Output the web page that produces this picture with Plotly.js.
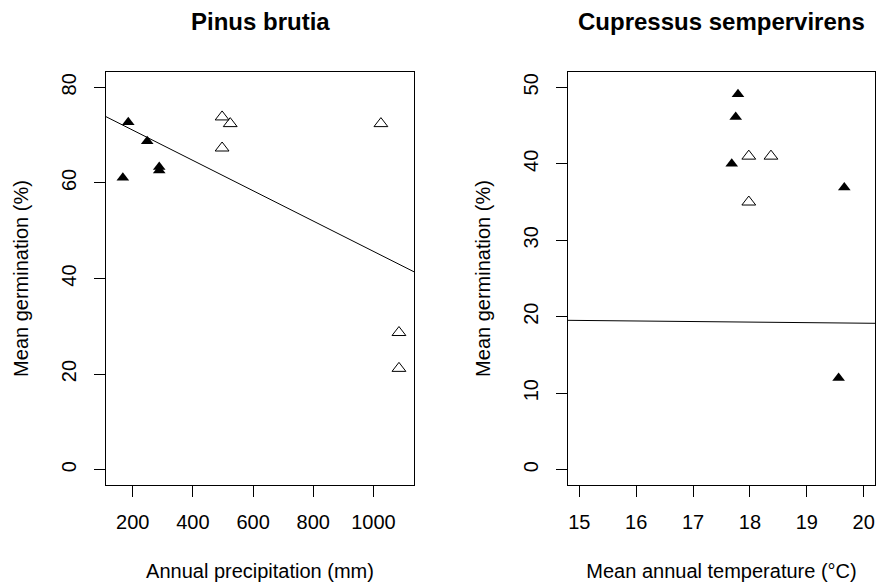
<!DOCTYPE html>
<html>
<head>
<meta charset="utf-8">
<script src="https://cdn.plot.ly/plotly-3.0.1.min.js"></script>
<style>
html,body{margin:0;padding:0;background:#fff;}
#chart{width:877px;height:583px;}
</style>
</head>
<body>
<div id="chart"></div>
<script>
// ---- Pinus brutia (left panel) ----
const pinusFilledPrecip = [185, 248, 167, 288, 288];
const pinusFilledGerm   = [72.7, 68.7, 61.1, 63.3, 62.6];
const pinusOpenPrecip   = [497, 524, 497, 1025, 1085, 1085];
const pinusOpenGerm     = [73.8, 72.4, 67.3, 72.4, 28.7, 21.2];
const pinusFitIntercept = 77.37;
const pinusFitSlope     = -0.03169;
const pinusXRange = [111, 1135];
const pinusYRange = [-3.2, 83.2];
const pinusXTicks = [200, 400, 600, 800, 1000];
const pinusYTicks = [0, 20, 40, 60, 80];

// ---- Cupressus sempervirens (right panel) ----
const cupFilledTemp = [17.79, 17.75, 17.68, 19.66, 19.56];
const cupFilledGerm = [49.1, 46.1, 40.0, 36.9, 12.0];
const cupOpenTemp   = [17.98, 18.37, 17.98];
const cupOpenGerm   = [41.0, 41.0, 35.0];
const cupFitIntercept = 20.60;
const cupFitSlope     = -0.0722;
const cupXRange = [14.8, 20.2];
const cupYRange = [-2, 52];
const cupXTicks = [15, 16, 17, 18, 19, 20];
const cupYTicks = [0, 10, 20, 30, 40, 50];

const titles = ["Pinus brutia", "Cupressus sempervirens"];
const xTitles = ["Annual precipitation (mm)", "Mean annual temperature (°C)"];
const yTitle = "Mean germination (%)";

const FONT = "Liberation Sans, Arial, sans-serif";
const W = 877, H = 583;

function fitLine(range, a, b) {
  return {x: range.slice(), y: range.map(v => a + b * v)};
}
const pinusFit = fitLine(pinusXRange, pinusFitIntercept, pinusFitSlope);
const cupFit = fitLine(cupXRange, cupFitIntercept, cupFitSlope);

const filledMarker = {symbol: 'triangle-up', size: 11, color: '#000', line: {width: 0}};
const openMarker = {symbol: 'triangle-up-open', size: 12, color: '#000', line: {width: 1, color: '#000'}};

const traces = [
  {x: pinusFit.x, y: pinusFit.y, mode: 'lines', line: {color: '#000', width: 1}, xaxis: 'x', yaxis: 'y', hoverinfo: 'skip'},
  {x: pinusFilledPrecip, y: pinusFilledGerm, mode: 'markers', marker: filledMarker, xaxis: 'x', yaxis: 'y'},
  {x: pinusOpenPrecip, y: pinusOpenGerm, mode: 'markers', marker: openMarker, xaxis: 'x', yaxis: 'y'},
  {x: cupFit.x, y: cupFit.y, mode: 'lines', line: {color: '#000', width: 1}, xaxis: 'x2', yaxis: 'y2', hoverinfo: 'skip'},
  {x: cupFilledTemp, y: cupFilledGerm, mode: 'markers', marker: filledMarker, xaxis: 'x2', yaxis: 'y2'},
  {x: cupOpenTemp, y: cupOpenGerm, mode: 'markers', marker: openMarker, xaxis: 'x2', yaxis: 'y2'}
];

function xAxis(range, ticks, title, domain, anchor) {
  return {
    domain: domain, anchor: anchor, range: range, tickvals: ticks, ticktext: ticks.map(String),
    showgrid: false, zeroline: false, showline: true, mirror: true, linecolor: '#000', linewidth: 1,
    ticks: 'outside', ticklen: 11, tickwidth: 1, tickcolor: '#000', ticklabelstandoff: 8,
    tickfont: {family: FONT, size: 20, color: '#000'},
    title: {text: title, font: {family: FONT, size: 20, color: '#000'}, standoff: 31},
    automargin: false, fixedrange: true
  };
}
function yAxis(range, ticks, domain, anchor) {
  return {
    domain: domain, anchor: anchor, range: range, tickvals: ticks, ticktext: ticks.map(String),
    showgrid: false, zeroline: false, showline: true, mirror: true, linecolor: '#000', linewidth: 1,
    ticks: 'outside', ticklen: 11, tickwidth: 1, tickcolor: '#000', tickangle: -90, ticklabelstandoff: 10,
    tickfont: {family: FONT, size: 20, color: '#000'},
    title: {text: yTitle, font: {family: FONT, size: 20, color: '#000'}, standoff: 24},
    automargin: false, fixedrange: true
  };
}

const yDom = [(H - 485) / H, (H - 72) / H];
const layout = {
  width: W, height: H,
  margin: {l: 0, r: 0, t: 0, b: 0},
  paper_bgcolor: '#fff', plot_bgcolor: '#fff',
  showlegend: false,
  font: {family: FONT, color: '#000'},
  xaxis: xAxis(pinusXRange, pinusXTicks, xTitles[0], [106 / W, 414 / W], 'y'),
  yaxis: yAxis(pinusYRange, pinusYTicks, yDom, 'x'),
  xaxis2: xAxis(cupXRange, cupXTicks, xTitles[1], [568 / W, 875 / W], 'y2'),
  yaxis2: yAxis(cupYRange, cupYTicks, yDom, 'x2'),
  annotations: [
    {text: '<b>' + titles[0] + '</b>', x: 260 / W, y: 1 - 22 / H, xref: 'paper', yref: 'paper', showarrow: false,
     xanchor: 'center', yanchor: 'middle', font: {family: FONT, size: 24, color: '#000'}},
    {text: '<b>' + titles[1] + '</b>', x: 721.5 / W, y: 1 - 22 / H, xref: 'paper', yref: 'paper', showarrow: false,
     xanchor: 'center', yanchor: 'middle', font: {family: FONT, size: 24, color: '#000'}}
  ]
};

Plotly.newPlot('chart', traces, layout, {staticPlot: true, displayModeBar: false});
</script>
</body>
</html>
